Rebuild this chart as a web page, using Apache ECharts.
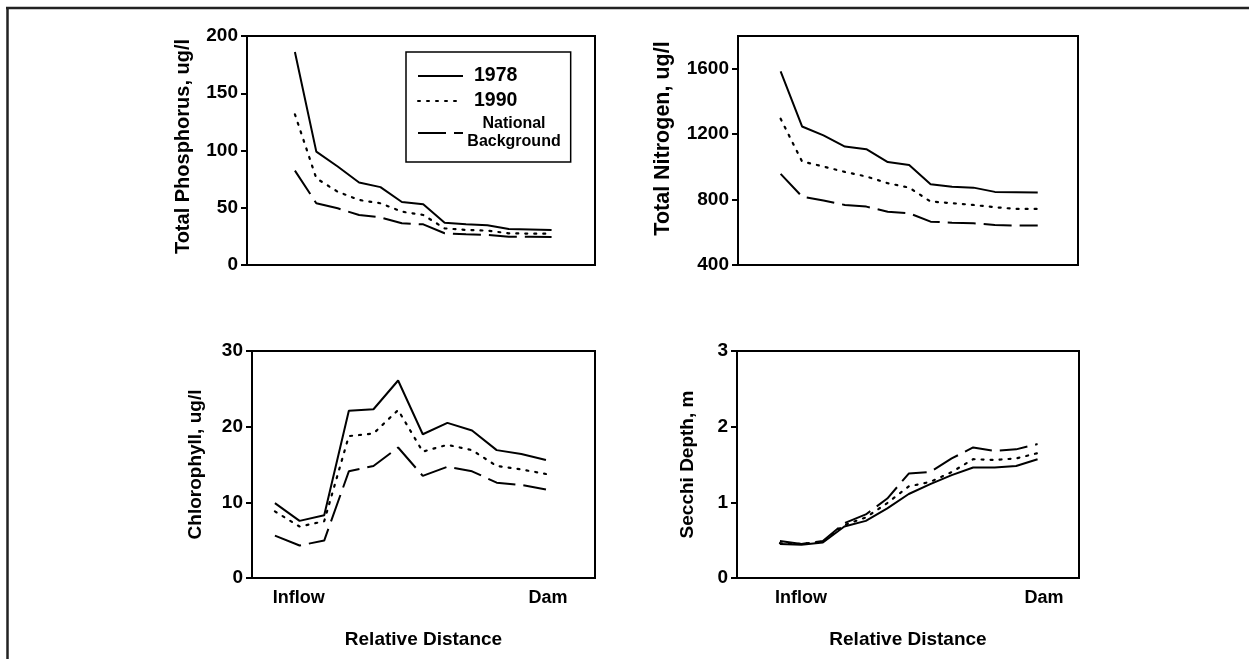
<!DOCTYPE html>
<html>
<head>
<meta charset="utf-8">
<script src="https://cdn.jsdelivr.net/npm/echarts@6/dist/echarts.min.js"></script>
<style>
html,body{margin:0;padding:0;background:#fff;}
#c{width:1249px;height:659px;}
</style>
</head>
<body>
<div id="c"></div>
<script>
// ---- Data ----
const seriesNames = ['1978', '1990', 'National Background'];

// Total Phosphorus, ug/l (13 stations, inflow -> dam)
const tp1978 = [186, 99, 86, 72, 68, 55, 53, 37, 35.5, 34.8, 31.4, 31.1, 30.6];
const tp1990 = [131.6, 75.7, 64, 56.8, 53.9, 46.6, 43.7, 32, 30.6, 30, 27.7, 27.4, 27.4];
const tpNat  = [82.4, 53.9, 49.5, 43.7, 41.6, 36.4, 35.5, 27.7, 26.8, 26.2, 24.7, 24.7, 24.5];

// Total Nitrogen, ug/l
const tn1978 = [1584, 1247, 1192, 1124, 1108, 1029, 1012, 894, 878, 873, 847, 845, 843];
const tn1990 = [1294, 1033, 1002, 969, 941, 900, 873, 788, 778, 767, 753, 743, 743];
const tnNat  = [957, 818, 794, 767, 757, 726, 716, 665, 659, 655, 645, 641, 641];

// Chlorophyll, ug/l (12 stations)
const ch1978 = [9.9, 7.55, 8.3, 22.1, 22.3, 26.1, 19.0, 20.5, 19.5, 16.9, 16.4, 15.6];
const ch1990 = [8.8, 6.8, 7.5, 18.75, 19.1, 22.2, 16.7, 17.6, 16.9, 14.8, 14.35, 13.75];
const chNat  = [5.6, 4.3, 4.95, 14.1, 14.8, 17.25, 13.5, 14.7, 14.1, 12.6, 12.3, 11.7];

// Secchi Depth, m
const sd1978 = [0.45, 0.44, 0.47, 0.68, 0.755, 0.92, 1.11, 1.24, 1.36, 1.46, 1.46, 1.48, 1.57];
const sd1990 = [0.46, 0.45, 0.48, 0.70, 0.80, 0.99, 1.21, 1.27, 1.40, 1.57, 1.56, 1.58, 1.65];
const sdNat  = [0.49, 0.45, 0.49, 0.725, 0.84, 1.05, 1.38, 1.40, 1.58, 1.725, 1.68, 1.70, 1.77];

const yTitles = ['Total Phosphorus, ug/l', 'Total Nitrogen, ug/l', 'Chlorophyll, ug/l', 'Secchi Depth, m'];
const xTitle = 'Relative Distance';
const endLabels = ['Inflow', 'Dam'];

// ---- Styles ----
const FONT = '"Liberation Sans", Arial, sans-serif';
const lineStyles = [
  {type: 'solid', width: 2},
  {type: [2, 7], width: 2.2, cap: 'round'},
  {type: [28, 8], width: 2}
];

const panels = [
  {data: [tp1978, tp1990, tpNat], grid: {left: 247, top: 36, right: 654, bottom: 394},
   y: {min: 0, max: 200, interval: 50}, x: {min: -2.24, max: 14.03},
   nameGap: 54, nameSize: 20, namePad: [0, 0, 0, 8], bottomPanel: false},
  {data: [tn1978, tn1990, tnNat], grid: {left: 738, top: 36, right: 171, bottom: 394},
   y: {min: 400, max: 1800, interval: 400}, x: {min: -1.99, max: 13.88},
   nameGap: 64, nameSize: 21.5, namePad: [0, 0, 0, 24], bottomPanel: false},
  {data: [ch1978, ch1990, chNat], grid: {left: 252, top: 351, right: 654, bottom: 81},
   y: {min: 0, max: 30, interval: 10}, x: {min: -0.93, max: 12.99},
   nameGap: 47, nameSize: 19, namePad: 0, bottomPanel: true, labelAt: [0.97, 11.08]},
  {data: [sd1978, sd1990, sdNat], grid: {left: 737, top: 351, right: 170, bottom: 81},
   y: {min: 0, max: 3, interval: 1}, x: {min: -2.0, max: 13.93},
   nameGap: 40, nameSize: 19, namePad: 0, bottomPanel: true, labelAt: [0.98, 12.3]}
];

const grids = [], xAxes = [], yAxes = [], series = [];
panels.forEach((p, i) => {
  grids.push(Object.assign({show: true, borderColor: '#000', borderWidth: 2, backgroundColor: 'transparent'}, p.grid));
  const xa = {
    type: 'value', gridIndex: i, min: p.x.min, max: p.x.max,
    axisLine: {show: true, onZero: false, lineStyle: {color: '#000', width: 2}},
    axisTick: {show: false}, splitLine: {show: false},
    axisLabel: {show: false}
  };
  if (p.bottomPanel) {
    xa.axisLabel = {
      show: true, customValues: p.labelAt, margin: 11,
      color: '#000', fontFamily: FONT, fontWeight: 'bold', fontSize: 18,
      formatter: (v) => (Math.abs(v - p.labelAt[0]) < 1e-6 ? endLabels[0] : endLabels[1])
    };
    xa.name = xTitle;
    xa.nameLocation = 'middle';
    xa.nameGap = 52;
    xa.nameTextStyle = {color: '#000', fontFamily: FONT, fontWeight: 'bold', fontSize: 19};
  }
  xAxes.push(xa);
  yAxes.push({
    type: 'value', gridIndex: i, min: p.y.min, max: p.y.max, interval: p.y.interval,
    name: yTitles[i], nameLocation: 'middle', nameGap: p.nameGap, nameRotate: 90,
    nameTextStyle: {color: '#000', fontFamily: FONT, fontWeight: 'bold', fontSize: p.nameSize, padding: p.namePad},
    axisLine: {show: true, onZero: false, lineStyle: {color: '#000', width: 2}},
    axisTick: {show: true, inside: false, length: 6, lineStyle: {color: '#000', width: 2}},
    splitLine: {show: false},
    axisLabel: {color: '#000', fontFamily: FONT, fontWeight: 'bold', fontSize: 19, margin: 9,
      showMaxLabel: i === 1 ? false : true, formatter: (v) => String(v)}
  });
  p.data.forEach((arr, k) => {
    series.push({
      name: seriesNames[k], type: 'line', xAxisIndex: i, yAxisIndex: i,
      data: arr.map((v, j) => [j, v]),
      showSymbol: false, symbol: 'none', silent: true, animation: false,
      lineStyle: Object.assign({color: '#000'}, lineStyles[k]),
      itemStyle: {color: '#000'}
    });
  });
});

const chart = echarts.init(document.getElementById('c'), null, {renderer: 'canvas'});
chart.setOption({
  backgroundColor: '#fff',
  animation: false,
  grid: grids, xAxis: xAxes, yAxis: yAxes, series: series,
  legend: {
    data: seriesNames, orient: 'vertical', left: 406, top: 52,
    padding: [14, 10, 12, 11], itemGap: 5, itemWidth: 45, itemHeight: 19,
    borderColor: '#000', borderWidth: 1.5, backgroundColor: '#fff',
    selectedMode: false,
    itemStyle: {color: 'transparent', borderWidth: 0, opacity: 0},
    formatter: (name) => name === 'National Background' ? '{n|National}\n{n|Background}' : '{y|' + name + '}',
    textStyle: {
      color: '#000', fontFamily: FONT, fontWeight: 'bold',
      rich: {
        y: {fontSize: 19.5, lineHeight: 19, fontWeight: 'bold', fontFamily: FONT, color: '#000', padding: [0, 0, 0, 6]},
        n: {fontSize: 16, lineHeight: 18, fontWeight: 'bold', fontFamily: FONT, color: '#000', width: 92, align: 'center'}
      }
    }
  },
  graphic: [
    {type: 'line', shape: {x1: 7.5, y1: 7, x2: 7.5, y2: 659}, style: {stroke: '#222', lineWidth: 2.5}, silent: true},
    {type: 'line', shape: {x1: 6, y1: 8, x2: 1249, y2: 8}, style: {stroke: '#222', lineWidth: 2.5}, silent: true}
  ]
});
</script>
</body>
</html>
